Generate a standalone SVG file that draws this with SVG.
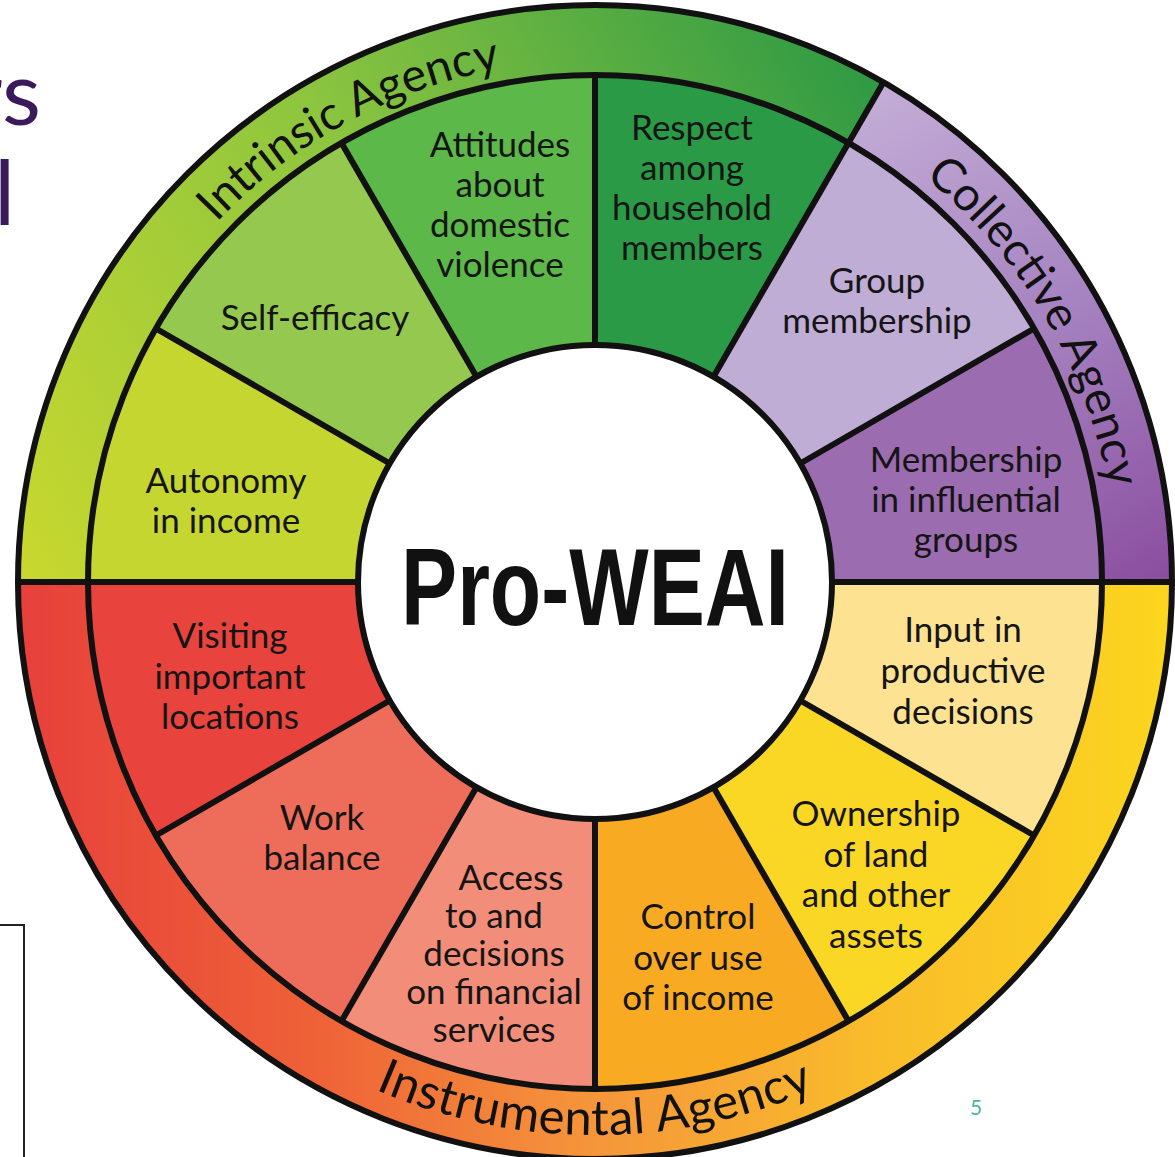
<svg xmlns="http://www.w3.org/2000/svg" width="1175" height="1157" viewBox="0 0 1175 1157">
<defs>
<linearGradient id="gIntrinsic" gradientUnits="userSpaceOnUse" x1="18" y1="582" x2="880" y2="90">
<stop offset="0" stop-color="#c9d82e"/>
<stop offset="0.5" stop-color="#8cc53f"/>
<stop offset="1" stop-color="#2f9a44"/>
</linearGradient>
<linearGradient id="gCollective" gradientUnits="userSpaceOnUse" x1="880" y1="90" x2="1172" y2="582">
<stop offset="0" stop-color="#c3acd6"/>
<stop offset="0.5" stop-color="#a582c0"/>
<stop offset="1" stop-color="#8a4d9f"/>
</linearGradient>
<linearGradient id="gInstrumental" gradientUnits="userSpaceOnUse" x1="18" y1="700" x2="1172" y2="700">
<stop offset="0" stop-color="#e7403b"/>
<stop offset="0.25" stop-color="#ee6037"/>
<stop offset="0.5" stop-color="#f5963a"/>
<stop offset="0.75" stop-color="#f9bd2a"/>
<stop offset="1" stop-color="#fcd61e"/>
</linearGradient>
<path id="arcTop" d="M 73 582 A 522 522 0 0 1 1117 582"/>
<path id="arcBottom" d="M 42 582 A 553 553 0 0 0 1148 582"/>
</defs>
<style>
.seg{stroke:none}
.line{stroke:#111;stroke-width:6;fill:none}
.lbl{font-family:Lato,"Open Sans","Liberation Sans",sans-serif;font-size:35px;fill:#151515;text-anchor:middle}
.ring{font-family:Lato,"Open Sans","Liberation Sans",sans-serif;font-size:47px;fill:#111;text-anchor:middle}
.ring-bottom{font-size:49px;letter-spacing:0.5px}
.title{font-family:Lato,"Open Sans","Liberation Sans",sans-serif;font-size:90px;fill:#3b1a5b}
</style>
<rect width="1175" height="1157" fill="#ffffff"/>

<g id="slide-title">
<text class="title" x="41" y="125" text-anchor="end">rs</text>
<text class="title" x="-6" y="225">l</text>
</g>
<g id="side-box">
<polyline points="0,925 24,925 24,1157" fill="none" stroke="#222" stroke-width="2"/>
</g>

<g id="ring-intrinsic">
<path class="seg" fill="url(#gIntrinsic)" d="M 18 582 A 577 577 0 0 1 883.5 82.3 L 848.5 142.9 A 507 507 0 0 0 88 582 Z"/>
<text class="ring"><textPath href="#arcTop" startOffset="34.2%">Intrinsic Agency</textPath></text>
</g>
<g id="ring-collective">
<path class="seg" fill="url(#gCollective)" d="M 883.5 82.3 A 577 577 0 0 1 1172 582 L 1102 582 A 507 507 0 0 0 848.5 142.9 Z"/>
<text class="ring"><textPath href="#arcTop" startOffset="83%">Collective Agency</textPath></text>
</g>
<g id="ring-instrumental">
<path class="seg" fill="url(#gInstrumental)" d="M 1172 582 A 577 577 0 0 1 18 582 L 88 582 A 507 507 0 0 0 1102 582 Z"/>
<text class="ring ring-bottom"><textPath href="#arcBottom" startOffset="50%">Instrumental Agency</textPath></text>
</g>

<g id="seg-respect">
<path class="seg" fill="#2a9a46" d="M 595 75 A 507 507 0 0 1 848.5 142.9 L 713.5 376.8 A 237 237 0 0 0 595 345 Z"/>
<text class="lbl" x="692" y="140">Respect</text>
<text class="lbl" x="692" y="180">among</text>
<text class="lbl" x="692" y="220">household</text>
<text class="lbl" x="692" y="260">members</text>
</g>
<g id="seg-group-membership">
<path class="seg" fill="#c0add5" d="M 848.5 142.9 A 507 507 0 0 1 1034.1 328.5 L 800.2 463.5 A 237 237 0 0 0 713.5 376.8 Z"/>
<text class="lbl" x="877" y="293">Group</text>
<text class="lbl" x="877" y="333">membership</text>
</g>
<g id="seg-influential-groups">
<path class="seg" fill="#9b6caf" d="M 1034.1 328.5 A 507 507 0 0 1 1102 582 L 832 582 A 237 237 0 0 0 800.2 463.5 Z"/>
<text class="lbl" x="966" y="472">Membership</text>
<text class="lbl" x="966" y="512">in influential</text>
<text class="lbl" x="966" y="552">groups</text>
</g>
<g id="seg-input">
<path class="seg" fill="#fde391" d="M 1102 582 A 507 507 0 0 1 1034.1 835.5 L 800.2 700.5 A 237 237 0 0 0 832 582 Z"/>
<text class="lbl" x="963" y="642">Input in</text>
<text class="lbl" x="963" y="683">productive</text>
<text class="lbl" x="963" y="724">decisions</text>
</g>
<g id="seg-ownership">
<path class="seg" fill="#fad725" d="M 1034.1 835.5 A 507 507 0 0 1 848.5 1021.1 L 713.5 787.2 A 237 237 0 0 0 800.2 700.5 Z"/>
<text class="lbl" x="876" y="826">Ownership</text>
<text class="lbl" x="876" y="867">of land</text>
<text class="lbl" x="876" y="907">and other</text>
<text class="lbl" x="876" y="948">assets</text>
</g>
<g id="seg-control">
<path class="seg" fill="#f8aa22" d="M 848.5 1021.1 A 507 507 0 0 1 595 1089 L 595 819 A 237 237 0 0 0 713.5 787.2 Z"/>
<text class="lbl" x="698" y="929">Control</text>
<text class="lbl" x="698" y="970">over use</text>
<text class="lbl" x="698" y="1010">of income</text>
</g>
<g id="seg-access">
<path class="seg" fill="#f18d79" d="M 595 1089 A 507 507 0 0 1 341.5 1021.1 L 476.5 787.2 A 237 237 0 0 0 595 819 Z"/>
<text class="lbl" x="511" y="890">Access</text>
<text class="lbl" x="494" y="928">to and</text>
<text class="lbl" x="494" y="966">decisions</text>
<text class="lbl" x="494" y="1004">on financial</text>
<text class="lbl" x="494" y="1042">services</text>
</g>
<g id="seg-work-balance">
<path class="seg" fill="#ee6d5a" d="M 341.5 1021.1 A 507 507 0 0 1 155.9 835.5 L 389.8 700.5 A 237 237 0 0 0 476.5 787.2 Z"/>
<text class="lbl" x="322" y="830">Work</text>
<text class="lbl" x="322" y="870">balance</text>
</g>
<g id="seg-visiting">
<path class="seg" fill="#e8433d" d="M 155.9 835.5 A 507 507 0 0 1 88 582 L 358 582 A 237 237 0 0 0 389.8 700.5 Z"/>
<text class="lbl" x="230" y="648">Visiting</text>
<text class="lbl" x="230" y="689">important</text>
<text class="lbl" x="230" y="729">locations</text>
</g>
<g id="seg-autonomy">
<path class="seg" fill="#c6d631" d="M 88 582 A 507 507 0 0 1 155.9 328.5 L 389.8 463.5 A 237 237 0 0 0 358 582 Z"/>
<text class="lbl" x="226" y="493">Autonomy</text>
<text class="lbl" x="226" y="533">in income</text>
</g>
<g id="seg-self-efficacy">
<path class="seg" fill="#95c84f" d="M 155.9 328.5 A 507 507 0 0 1 341.5 142.9 L 476.5 376.8 A 237 237 0 0 0 389.8 463.5 Z"/>
<text class="lbl" x="315" y="330">Self-efficacy</text>
</g>
<g id="seg-attitudes">
<path class="seg" fill="#5cb848" d="M 341.5 142.9 A 507 507 0 0 1 595 75 L 595 345 A 237 237 0 0 0 476.5 376.8 Z"/>
<text class="lbl" x="500" y="157">Attitudes</text>
<text class="lbl" x="500" y="197">about</text>
<text class="lbl" x="500" y="237">domestic</text>
<text class="lbl" x="500" y="277">violence</text>
</g>

<g id="dividers">
<circle class="line" cx="595" cy="582" r="577"/>
<circle class="line" cx="595" cy="582" r="507"/>
<line class="line" x1="18" y1="582" x2="358" y2="582"/>
<line class="line" x1="832" y1="582" x2="1172" y2="582"/>
<line class="line" x1="713.5" y1="376.8" x2="883.5" y2="82.3"/>
<line class="line" x1="595" y1="345" x2="595" y2="75"/>
<line class="line" x1="800.2" y1="463.5" x2="1034.1" y2="328.5"/>
<line class="line" x1="800.2" y1="700.5" x2="1034.1" y2="835.5"/>
<line class="line" x1="713.5" y1="787.2" x2="848.5" y2="1021.1"/>
<line class="line" x1="595" y1="819" x2="595" y2="1089"/>
<line class="line" x1="476.5" y1="787.2" x2="341.5" y2="1021.1"/>
<line class="line" x1="389.8" y1="700.5" x2="155.9" y2="835.5"/>
<line class="line" x1="389.8" y1="463.5" x2="155.9" y2="328.5"/>
<line class="line" x1="476.5" y1="376.8" x2="341.5" y2="142.9"/>
</g>

<g id="center">
<circle cx="595" cy="582" r="237" fill="#ffffff" stroke="#111" stroke-width="6"/>
<text x="595" y="625" text-anchor="middle" font-family="'Liberation Sans Narrow','Liberation Sans',sans-serif" font-weight="bold" font-size="110" fill="#111" textLength="388" lengthAdjust="spacingAndGlyphs">Pro-WEAI</text>
</g>

<g id="page-number">
<text x="976" y="1115" text-anchor="middle" font-family="Lato,'Open Sans',sans-serif" font-size="21" fill="#4fb3a6">5</text>
</g>
</svg>
